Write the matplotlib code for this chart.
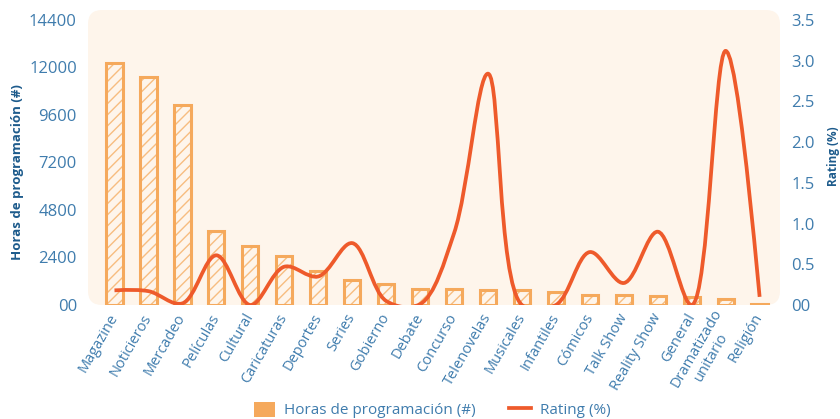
import matplotlib
matplotlib.use("Agg")
import matplotlib.pyplot as plt
from matplotlib.patches import FancyBboxPatch, PathPatch, Patch
from matplotlib.path import Path
from matplotlib.lines import Line2D
import numpy as np

plt.rcParams['font.family'] = ['Open Sans', 'DejaVu Sans']
plt.rcParams['hatch.linewidth'] = 1.0

categories = ["Magazine", "Noticieros", "Mercadeo", "Películas", "Cultural",
              "Caricaturas", "Deportes", "Series", "Gobierno", "Debate",
              "Concurso", "Telenovelas", "Musicales", "Infantiles", "Cómicos",
              "Talk Show", "Reality Show", "General", "Dramatizado\nunitario",
              "Religión"]
horas = [12200, 11500, 10100, 3750, 3000, 2450, 1700, 1250, 1050, 800,
         800, 750, 750, 680, 530, 530, 430, 380, 290, 40]
rating = [0.18, 0.17, 0.02, 0.61, 0.0, 0.47, 0.35, 0.76, 0.05, 0.01,
          0.88, 2.84, 0.0, 0.0, 0.65, 0.27, 0.90, 0.0, 3.12, 0.10]

left_ticks = [0, 2400, 4800, 7200, 9600, 12000, 14400]
left_labels = ["00", "2400", "4800", "7200", "9600", "12000", "14400"]
right_ticks = [0, 0.5, 1.0, 1.5, 2.0, 2.5, 3.0, 3.5]
right_labels = ["00", "0.5", "1.0", "1.5", "2.0", "2.5", "3.0", "3.5"]

BAR_EDGE = "#F5A95C"
HATCH = "#F7BD80"
LINE = "#EE5A2B"
TICK = "#3F7CAD"
TITLE = "#1D5B8C"
BG = "#FEF5EB"

W, H = 840, 419
fig = plt.figure(figsize=(W / 100, H / 100), dpi=100)
ax = fig.add_axes([88 / W, (H - 305) / H, (780 - 88) / W, 295 / H])
ax.patch.set_visible(False)
bg = FancyBboxPatch((0, 0), 1, 1, boxstyle="round,pad=0,rounding_size=0.02",
                    transform=ax.transAxes, facecolor=BG, edgecolor="none",
                    zorder=0, mutation_aspect=692 / 295)
ax.add_patch(bg)

x = np.arange(len(categories))
ax.bar(x, horas, width=0.48, color="none", edgecolor=HATCH, linewidth=0,
       hatch="///", zorder=2)
ax.bar(x, horas, width=0.48, color="none", edgecolor=BAR_EDGE, linewidth=2.2,
       zorder=3)

ax.set_xlim(-0.78, 19.6)
ax.set_ylim(0, 14900)
ax.set_yticks(left_ticks)
ax.set_yticklabels(left_labels)
ax.set_xticks(x)
ax.set_xticklabels(categories, rotation=60, ha="right", va="center",
                   rotation_mode="anchor", multialignment="center")
ax.tick_params(axis="x", length=0, pad=7, labelsize=10.5, labelcolor=TICK)
ax.tick_params(axis="y", length=0, pad=8, labelsize=12, labelcolor=TICK)
for s in ax.spines.values():
    s.set_visible(False)

ax2 = ax.twinx()
ax2.set_ylim(0, 3.5 * 14900 / 14400)
ax2.set_yticks(right_ticks)
ax2.set_yticklabels(right_labels)
ax2.tick_params(axis="y", length=0, pad=8, labelsize=12, labelcolor=TICK)
for s in ax2.spines.values():
    s.set_visible(False)


def spline_path(axis, xs, ys, smooth=1.0):
    """Catmull-Rom style smoothing computed in display space."""
    pts = axis.transData.transform(np.column_stack([xs, ys]))
    n = len(pts)
    tangents = []
    for i in range(1, n - 1):
        p0, p1, p2 = pts[i - 1], pts[i], pts[i + 1]
        d1 = p0 - p1
        d2 = p2 - p1
        d1a = np.hypot(*d1) ** 0.5
        d2a = np.hypot(*d2) ** 0.5
        num = (d2a * d2a * d1 - d1a * d1a * d2) * smooth
        den1 = 3 * d2a * (d1a + d2a)
        den2 = 3 * d1a * (d1a + d2a)
        t0 = p1 + (num / den1 if den1 else 0)
        t1 = p1 - (num / den2 if den2 else 0)
        tangents.append((t0, t1))
    verts = [pts[0], tangents[0][0], pts[1]]
    codes = [Path.MOVETO, Path.CURVE3, Path.CURVE3]
    for i in range(2, n - 1):
        verts += [tangents[i - 2][1], tangents[i - 1][0], pts[i]]
        codes += [Path.CURVE4] * 3
    verts += [tangents[n - 3][1], pts[n - 1]]
    codes += [Path.CURVE3] * 2
    data_verts = axis.transData.inverted().transform(np.array(verts))
    return Path(data_verts, codes)


path = spline_path(ax2, x, rating)
ax2.add_patch(PathPatch(path, facecolor="none", edgecolor=LINE, linewidth=2.7,
                        capstyle="butt", joinstyle="round", zorder=4))

fig.text(18 / W, 1 - 172 / H, "Horas de programación (#)", rotation=90,
         ha="center", va="center", fontsize=9.5, fontweight="bold", color=TITLE)
fig.text(833 / W, 1 - 156 / H, "Rating (%)", rotation=90,
         ha="center", va="center", fontsize=8.5, fontweight="bold", color=TITLE)

handles = [Patch(facecolor=BAR_EDGE, edgecolor="none"),
           Line2D([0], [0], color=LINE, linewidth=2.7)]
fig.legend(handles, ["Horas de programación (#)", "Rating (%)"],
           loc="center", bbox_to_anchor=(432 / W, 1 - 410 / H), ncol=2,
           frameon=False, fontsize=11, labelcolor=TICK, handlelength=1.4,
           handleheight=1.2, columnspacing=2.2, handletextpad=0.6)

fig.savefig("out.png", dpi=100)
